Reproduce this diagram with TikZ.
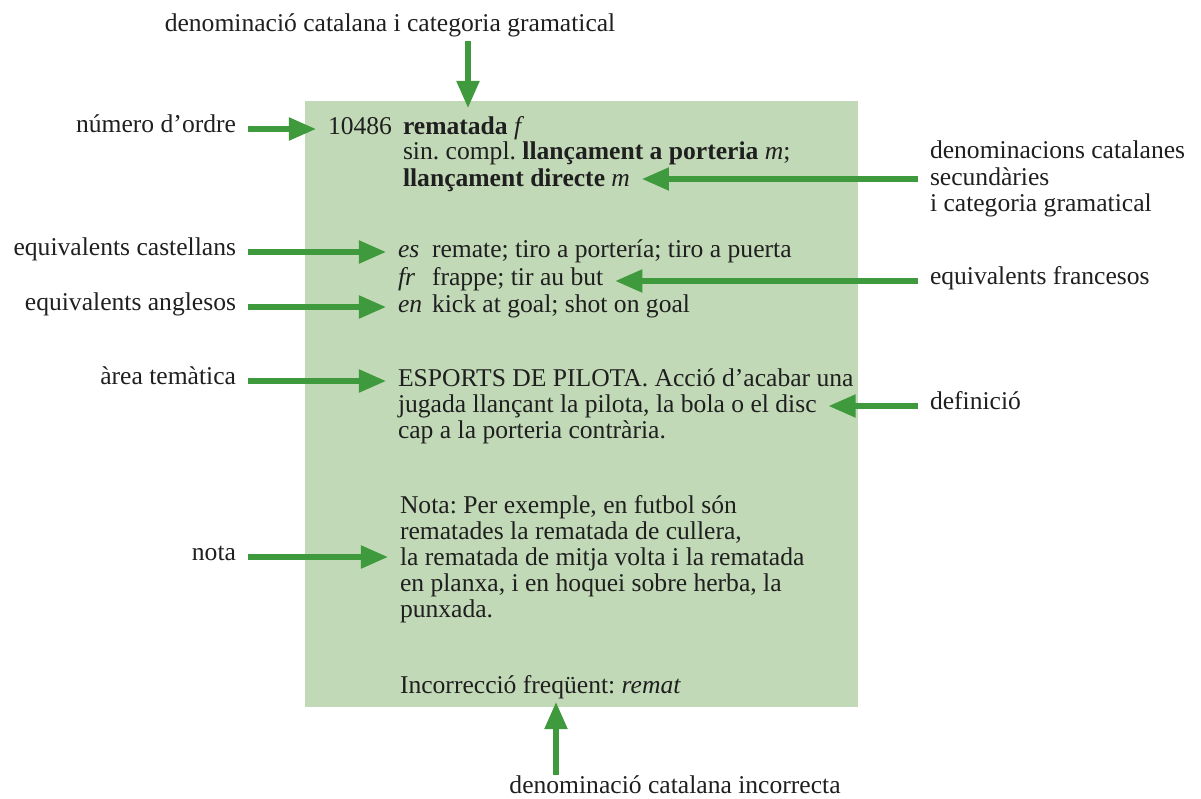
\documentclass[tikz,border=0pt]{standalone}
\usepackage{fontspec}
\setmainfont{Liberation Serif}
\usetikzlibrary{arrows.meta,positioning}
\definecolor{boxgreen}{HTML}{C1D9B6}
\definecolor{arrowgreen}{HTML}{3E9A3C}
\frenchspacing

\begin{document}
\begin{tikzpicture}[x=0.025cm,y=-0.025cm,>={Triangle[length=0.675cm,width=0.55cm]},thin]
\tikzstyle{txt}=[inner sep=0pt,outer sep=0pt,font=\fontsize{18.2}{18.6}\selectfont,text=black!88]
\tikzstyle{lbl}=[txt,anchor=mid east]
\tikzstyle{rlbl}=[txt,anchor=mid west,align=left]
\tikzstyle{line}=[txt,anchor=base west]
\tikzstyle{arr}=[->,draw=arrowgreen,fill=arrowgreen,line width=3.6pt,shorten <=0.3cm,shorten >=0.3cm]

\useasboundingbox (0,0) rectangle (1201,798);
\fill[boxgreen] (305,101) rectangle (858,707);

% entry text
\node[line]		(num)   at (328,134) {10486};
\node[line]		(lnOne) at (403,134) {\textbf{rematada} \textit{f}};
\node[line]		(lnTwo) at (403,159) {sin. compl. \textbf{llançament a porteria} \textit{m};};
\node[line]		(lnThree) at (403,186) {\textbf{llançament directe} \textit{m}};
\node[line]		(es) at (398,257) {\makebox[0.85cm][l]{\textit{es}}remate; tiro a portería; tiro a puerta};
\node[line]		(fr) at (398,285) {\makebox[0.85cm][l]{\textit{fr}}frappe; tir au but};
\node[line]		(en) at (398,312) {\makebox[0.85cm][l]{\textit{en}}kick at goal; shot on goal};
\node[line]		(defOne) at (398,386) {ESPORTS DE PILOTA. Acció d’acabar una};
\node[line]		(defTwo) at (398,412) {jugada llançant la pilota, la bola o el disc};
\node[line]		(defThree) at (398,438) {cap a la porteria contrària.};
\node[line]		(notaOne) at (400,513) {Nota: Per exemple, en futbol són};
\node[line]		(notaTwo) at (400,539) {rematades la rematada de cullera,};
\node[line]		(notaThree) at (400,565) {la rematada de mitja volta i la rematada};
\node[line]		(notaFour) at (400,591) {en planxa, i en hoquei sobre herba, la};
\node[line]		(notaFive) at (400,617) {punxada.};
\node[line]		(inc) at (400,693) {Incorrecció freqüent: \textit{remat}};

% labels
\node[txt,anchor=base]	(lblTop) at (390,31) {denominació catalana i categoria gramatical};
\node[txt,anchor=base]	(lblInc) at (675,793) {denominació catalana incorrecta};
\node[lbl]		(lblOrdre) at (236,129) {número d’ordre};
\node[lbl]		(lblCast) at (236,252) {equivalents castellans};
\node[lbl]		(lblAngl) at (236,307) {equivalents anglesos};
\node[lbl]		(lblArea) at (236,381) {àrea temàtica};
\node[lbl]		(lblNota) at (236,557) {nota};
\node[rlbl,anchor=west]	(lblDen) at (930,179) {denominacions catalanes\\secundàries\\i categoria gramatical};
\node[rlbl]		(lblFr) at (930,281) {equivalents francesos};
\node[rlbl]		(lblDef) at (930,406) {definició};

\coordinate (topIn) at (468,108);
\coordinate (botIn) at (556,702);

\path
(lblOrdre.mid east) edge[arr] (lblOrdre.mid east -| num.west)
(lblCast.mid east) edge[arr] (lblCast.mid east -| es.west)
(lblAngl.mid east) edge[arr] (lblAngl.mid east -| en.west)
(lblArea.mid east) edge[arr] (lblArea.mid east -| defOne.west)
(lblNota.mid east) edge[arr] (lblNota.mid east -| notaThree.west)
(lblDen.west) edge[arr] (lblDen.west -| lnThree.east)
(lblFr.mid west) edge[arr] (lblFr.mid west -| fr.east)
(lblDef.mid west) edge[arr] (lblDef.mid west -| defTwo.east)
;
\draw[arr,shorten >=0pt,shorten <=0.25cm] (lblTop.base -| topIn) -- (topIn);
\draw[arr,shorten >=0pt,shorten <=0pt] (lblInc.north -| botIn) -- (botIn);
\end{tikzpicture}
\end{document}
